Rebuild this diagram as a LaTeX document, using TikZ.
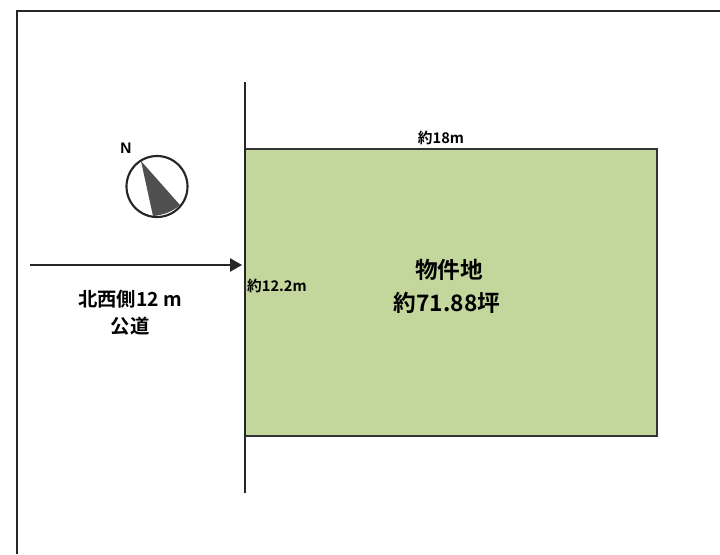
\documentclass[tikz,border=0pt]{standalone}
\usepackage{fontspec}
\setmainfont{Liberation Sans}
\newfontfamily\cjk{Noto Sans CJK JP}[BoldFont={* Bold}]
\usetikzlibrary{arrows.meta}
\definecolor{plotgreen}{RGB}{195,214,155}
\definecolor{wedgegray}{RGB}{80,80,80}
\tikzset{
  lbl/.style={inner sep=0pt,text=black,align=center},
  ln/.style={draw=black!85,line width=1.2pt},
  thinln/.style={draw=black!80,line width=0.8pt},
  bignote/.style={lbl,font=\cjk\bfseries\fontsize{17pt}{20pt}\selectfont},
  roadnote/.style={lbl,font=\cjk\bfseries\fontsize{14.5pt}{17pt}\selectfont},
  dimnote/.style={lbl,font=\cjk\bfseries\fontsize{11pt}{13pt}\selectfont}
}
\begin{document}
\begin{tikzpicture}[x=0.75pt,y=-0.75pt]
\useasboundingbox (0,0) rectangle (720,554);
\fill[white] (0,0) rectangle (720,554);
\draw[ln,line width=1.5pt] (16.5,554) -- (16.5,10.5) -- (720,10.5);
\coordinate (lotnw) at (245,149);
\coordinate (lotse) at (657,436);
\filldraw[thinln,fill=plotgreen] (lotnw) rectangle (lotse);
\coordinate (roadtop) at (245,82);
\coordinate (roadbot) at (245,493);
\draw[ln] (roadtop) -- (roadbot);
\coordinate (arrowstart) at (30,265);
\coordinate (arrowend) at (242,265);
\draw[ln,-{Triangle[length=9pt,width=10pt]}] (arrowstart) -- (arrowend);
\coordinate (cc) at (157,186.5);
\fill[wedgegray] (141,161) -- (180,205) .. controls (172,212) and (163,215) .. (153,216) -- cycle;
\draw[ln,line width=1.6pt] (cc) circle [radius=30.5];
\node[lbl,font=\fontsize{11.5pt}{13pt}\selectfont\bfseries] (north) at (126,148) {N};
\node[roadnote] (road) at (130,299) {北西側12 m};
\node[roadnote] (pub) at (130,326) {公道};
\node[dimnote] (top) at (441,138) {約18m};
\node[dimnote] (side) at (277,286) {約12.2m};
\node[bignote] (name) at (449,270) {物件地};
\node[bignote] (area) at (447,303) {約71.88坪};
\end{tikzpicture}
\end{document}
